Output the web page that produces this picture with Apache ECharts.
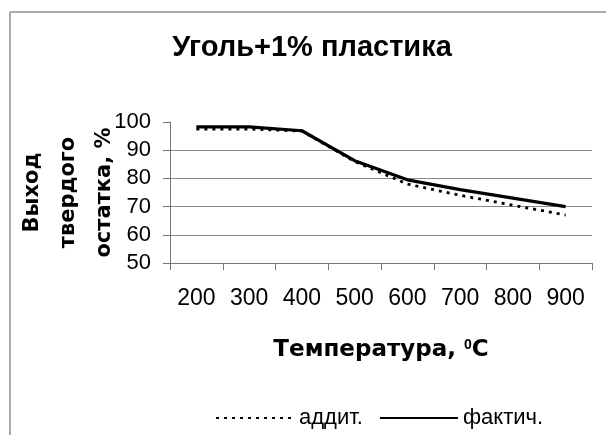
<!DOCTYPE html>
<html>
<head>
<meta charset="utf-8">
<script src="https://cdn.jsdelivr.net/npm/echarts@6/dist/echarts.min.js"></script>
<style>html,body{margin:0;padding:0;background:#fff;}#c{width:606px;height:435px;}</style>
</head>
<body>
<div id="c"></div>
<script>
const categories = ['200', '300', '400', '500', '600', '700', '800', '900'];
const additive = [97.5, 97.5, 96.8, 86, 78, 74, 70.5, 67];
const actual = [98.3, 98.3, 96.9, 86.3, 79.5, 76, 73, 70];
const yTicks = { min: 50, max: 100, interval: 10 };

const chart = echarts.init(document.getElementById('c'));
const F = 'Liberation Sans, Arial, sans-serif';
const FW = 'DejaVu Sans, Liberation Sans, sans-serif';
chart.setOption({
  backgroundColor: '#fff',
  animation: false,
  title: {
    text: 'Уголь+1% пластика',
    left: 307, top: 28, textAlign: 'center',
    textStyle: { fontFamily: F, fontSize: 29, fontWeight: 'bold', color: '#000' }
  },
  graphic: [
    { type: 'line', shape: { x1: 10, y1: 12, x2: 606, y2: 12 }, style: { stroke: '#aaa', lineWidth: 2 } },
    { type: 'line', shape: { x1: 10, y1: 12, x2: 10, y2: 435 }, style: { stroke: '#aaa', lineWidth: 2 } }
  ],
  legend: {
    left: 210, top: 402,
    itemWidth: 78, itemHeight: 14, itemGap: 16,
    itemStyle: { opacity: 0, borderWidth: 0 },
    textStyle: { fontFamily: F, fontSize: 22, color: '#000' },
    data: ['аддит.', 'фактич.']
  },
  grid: { left: 170, right: 14, top: 122, bottom: 172 },
  xAxis: {
    type: 'category',
    data: categories,
    boundaryGap: true,
    name: 'Температура, {s|0}C',
    nameLocation: 'middle',
    nameGap: 75,
    nameTextStyle: {
      fontFamily: FW, fontSize: 23, fontWeight: 'bold', color: '#000',
      rich: { s: { fontFamily: F, fontSize: 14, fontWeight: 'bold', color: '#000', verticalAlign: 'top', padding: [0, 0, 10, 0] } }
    },
    axisLine: { lineStyle: { color: '#777', width: 1 } },
    axisTick: { show: true, length: 7, lineStyle: { color: '#777' } },
    axisLabel: { fontFamily: F, fontSize: 23, color: '#000', margin: 24 },
    splitLine: { show: false }
  },
  yAxis: {
    type: 'value',
    min: yTicks.min, max: yTicks.max, interval: yTicks.interval,
    name: 'Выход\nтвердого\nостатка, %',
    nameLocation: 'middle',
    nameGap: 47,
    nameMoveOverlap: false,
    nameTextStyle: { fontFamily: FW, fontSize: 21, fontWeight: 'bold', color: '#000', lineHeight: 36 },
    axisLine: { show: true, lineStyle: { color: '#777', width: 1 } },
    axisTick: { show: true, length: 7, lineStyle: { color: '#777' } },
    axisLabel: { fontFamily: F, fontSize: 22, color: '#000', margin: 19 },
    splitLine: { show: true, showMaxLine: false, lineStyle: { color: '#888', width: 1 } }
  },
  series: [
    {
      name: 'аддит.', type: 'line', data: additive, symbol: 'none',
      lineStyle: { color: '#000', width: 2.8, type: [3, 5] },
      itemStyle: { color: '#000' }
    },
    {
      name: 'фактич.', type: 'line', data: actual, symbol: 'none',
      lineStyle: { color: '#000', width: 3.2 },
      itemStyle: { color: '#000' }
    }
  ]
});
</script>
</body>
</html>
